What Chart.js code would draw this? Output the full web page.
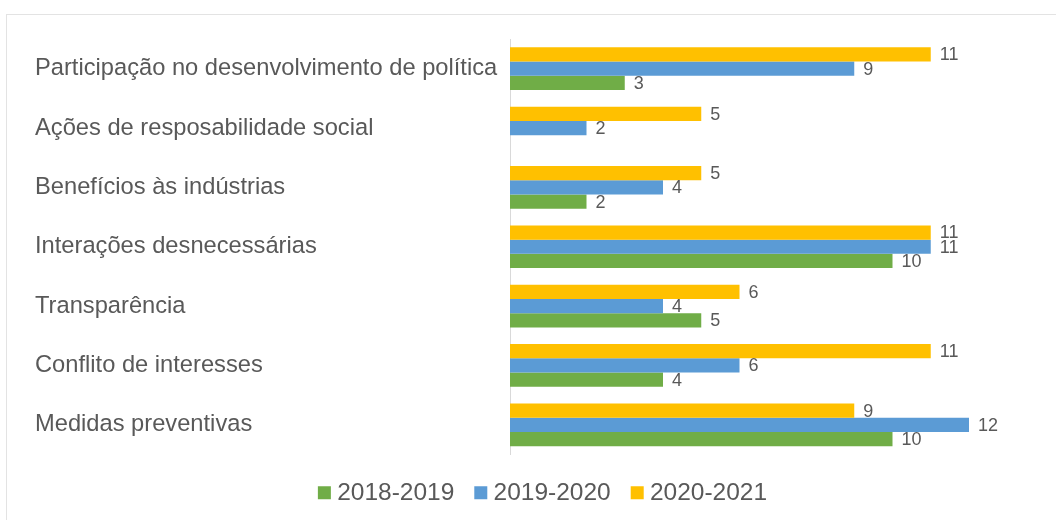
<!DOCTYPE html>
<html>
<head>
<meta charset="utf-8">
<script src="https://cdn.jsdelivr.net/npm/chart.js@4"></script>
<style>
  html, body { margin: 0; padding: 0; background: #fff; }
  #wrap { position: relative; width: 1056px; height: 520px; overflow: hidden; }
  #frame { position: absolute; left: 6px; top: 14px; width: 1200px; height: 700px; border: 1px solid #e3e3e3; box-sizing: border-box; }
  #box { position: absolute; left: 0; top: 0; width: 1056px; height: 520px; }
</style>
</head>
<body>
<div id="wrap">
  <div id="frame"></div>
  <div id="box"><canvas id="c"></canvas></div>
</div>
<script>
const categories = [
  'Participação no desenvolvimento de política',
  'Ações de resposabilidade social',
  'Benefícios às indústrias',
  'Interações desnecessárias',
  'Transparência',
  'Conflito de interesses',
  'Medidas preventivas'
];
const seriesNames = ['2018-2019', '2019-2020', '2020-2021'];
const values2018_2019 = [3, null, 2, 10, 5, 4, 10];
const values2019_2020 = [9, 2, 4, 11, 4, 6, 12];
const values2020_2021 = [11, 5, 5, 11, 6, 11, 9];
const colors = ['#70AD47', '#5B9BD5', '#FFC000'];

const FONT = "'Liberation Sans', Arial, sans-serif";
const TEXT = '#595959';

const valueLabels = {
  id: 'valueLabels',
  afterDatasetsDraw(chart) {
    const ctx = chart.ctx;
    ctx.save();
    ctx.font = '18px ' + FONT;
    ctx.fillStyle = TEXT;
    ctx.textAlign = 'left';
    ctx.textBaseline = 'middle';
    chart.data.datasets.forEach((ds, i) => {
      const meta = chart.getDatasetMeta(i);
      meta.data.forEach((bar, j) => {
        const v = ds.data[j];
        if (v === null || v === undefined) return;
        ctx.fillText(String(v), bar.x + 9, bar.y + 1);
      });
    });
    ctx.restore();
  }
};

new Chart(document.getElementById('c'), {
  type: 'bar',
  data: {
    labels: categories,
    datasets: [
      { label: seriesNames[2], data: values2020_2021, backgroundColor: colors[2] },
      { label: seriesNames[1], data: values2019_2020, backgroundColor: colors[1] },
      { label: seriesNames[0], data: values2018_2019, backgroundColor: colors[0] }
    ]
  },
  options: {
    indexAxis: 'y',
    responsive: true,
    maintainAspectRatio: false,
    animation: false,
    datasets: { bar: { categoryPercentage: 0.72, barPercentage: 1.0 } },
    layout: { padding: { left: 35, right: 0, top: 39, bottom: 5 } },
    scales: {
      x: {
        min: 0, max: 12,
        display: false
      },
      y: {
        grid: { display: false },
        border: { display: true, color: '#d9d9d9', width: 1 },
        ticks: {
          crossAlign: 'far',
          color: TEXT,
          font: { family: FONT, size: 23.7 }
        },
        afterFit(scale) { scale.width = 475; }
      },
      yRight: {
        type: 'linear',
        position: 'right',
        display: true,
        grid: { display: false },
        border: { display: false },
        ticks: { display: false },
        afterFit(scale) { scale.width = 87; }
      }
    },
    plugins: {
      legend: {
        position: 'bottom',
        reverse: true,
        labels: {
          usePointStyle: true,
          pointStyle: 'rect',
          boxWidth: 1,
          boxHeight: 13,
          color: TEXT,
          font: { family: FONT, size: 24.5 },
          padding: 26
        }
      },
      tooltip: { enabled: false }
    }
  },
  plugins: [valueLabels]
});
</script>
</body>
</html>
